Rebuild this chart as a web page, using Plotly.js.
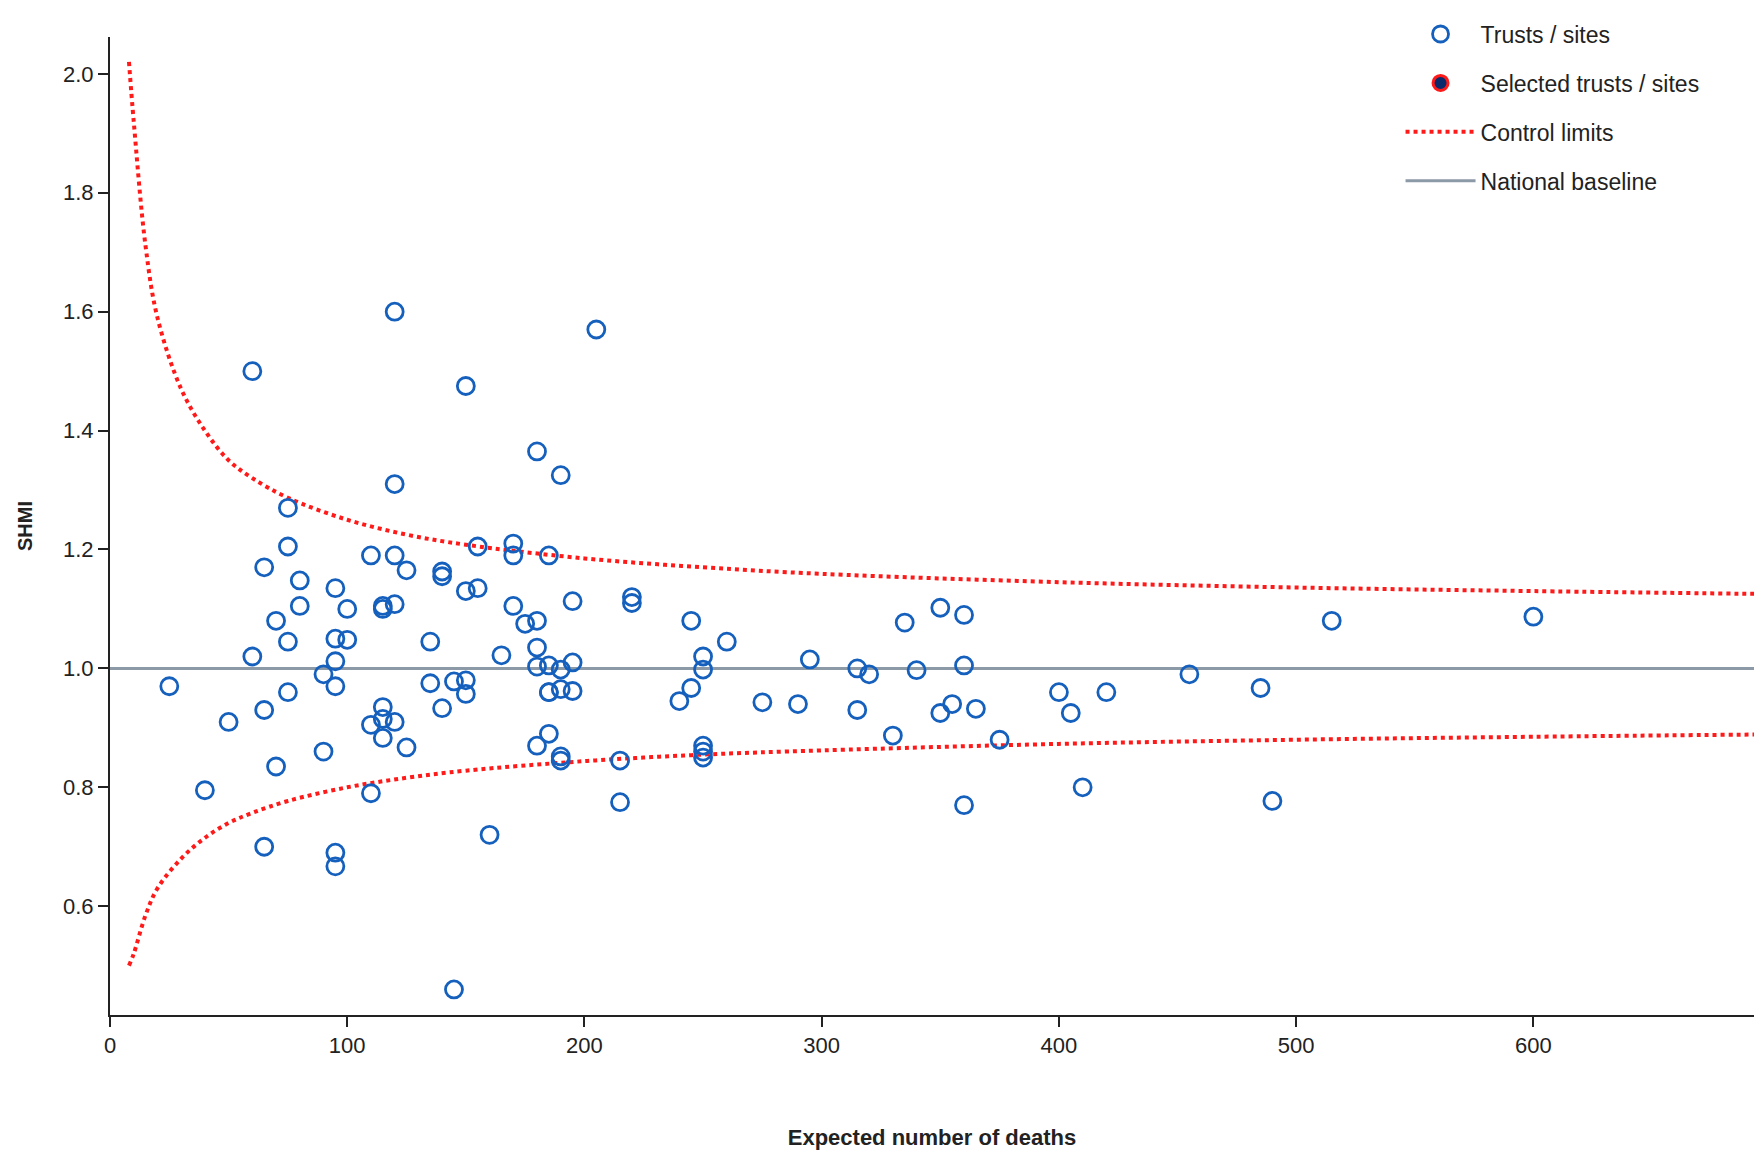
<!DOCTYPE html>
<html><head><meta charset="utf-8">
<script src="https://cdn.plot.ly/plotly-3.0.1.min.js"></script>
<style>html,body{margin:0;padding:0;background:#fff}#c{width:1754px;height:1154px}</style>
</head><body><div id="c"></div>
<script>
const expected = [25,40,50,60,60,65,65,65,70,70,75,75,75,75,80,80,90,90,95,95,95,95,95,95,100,100,110,110,110,115,115,115,115,115,120,120,120,120,120,125,125,135,135,140,140,140,145,145,150,150,150,150,155,155,160,165,170,170,170,175,180,180,180,180,180,185,185,185,185,185,190,190,190,190,190,195,195,195,205,215,215,220,220,240,245,245,250,250,250,250,250,260,275,290,295,315,315,320,330,335,340,350,350,355,360,360,360,365,375,400,405,410,420,455,485,490,515,600];
const shmi = [0.97,0.795,0.91,1.5,1.02,1.17,0.93,0.70,1.08,0.835,1.27,1.205,1.045,0.96,1.148,1.105,0.99,0.86,1.135,1.05,1.012,0.97,0.69,0.667,1.10,1.048,1.19,0.905,0.79,1.105,1.10,0.935,0.915,0.883,1.60,1.31,1.19,1.108,0.91,1.165,0.867,1.045,0.975,1.163,1.155,0.933,0.978,0.46,1.475,1.13,0.98,0.957,1.205,1.135,0.72,1.022,1.21,1.19,1.105,1.075,1.365,1.08,1.035,1.003,0.87,1.19,1.005,0.96,0.96,0.89,1.325,0.998,0.965,0.852,0.845,1.113,1.01,0.962,1.57,0.845,0.775,1.12,1.11,0.945,1.08,0.967,1.02,0.998,0.87,0.86,0.85,1.045,0.943,0.94,1.015,1.0,0.93,0.99,0.887,1.077,0.997,1.102,0.925,0.94,1.09,1.005,0.77,0.932,0.88,0.96,0.925,0.80,0.96,0.99,0.967,0.777,1.08,1.087];
const limitX = [8,10,15,20,30,40,50,60,75,100,125,150,200,250,300,400,500,600,700];
const upperLimit = [2.02,1.92,1.71,1.59,1.47,1.40,1.35,1.32,1.287,1.25,1.225,1.208,1.185,1.17,1.159,1.145,1.136,1.13,1.125];
const lowerLimit = [0.50,0.52,0.585,0.63,0.68,0.715,0.74,0.757,0.777,0.80,0.816,0.828,0.844,0.855,0.862,0.873,0.880,0.885,0.889];
const baselineX = [0,700];
const baselineY = [1,1];

const blue = '#1560bd';
const traces = [
 {x: baselineX, y: baselineY, mode:'lines', line:{color:'#8c99a6', width:3}, name:'National baseline', legendgroup:'d', legendrank:4, hoverinfo:'skip'},
 {x: limitX, y: upperLimit, mode:'lines', line:{color:'#ff1a1a', width:4, dash:'dot', shape:'spline'}, name:'Control limits', legendgroup:'c', legendrank:3},
 {x: limitX, y: lowerLimit, mode:'lines', line:{color:'#ff1a1a', width:4, dash:'dot', shape:'spline'}, name:'Control limits', legendgroup:'c', showlegend:false},
 {x: expected, y: shmi, mode:'markers', marker:{symbol:'circle-open', size:17, color:blue, line:{width:2.8, color:blue}}, name:'Trusts / sites', legendgroup:'a', legendrank:1},
 {x:[null], y:[null], mode:'markers', marker:{symbol:'circle', size:15, color:'#0b2a6b', line:{width:3, color:'#ff1a1a'}}, name:'Selected trusts / sites', legendgroup:'b', legendrank:2}
];
const layout = {
 width:1754, height:1154, paper_bgcolor:'#fff', plot_bgcolor:'#fff',
 margin:{l:110, r:0, t:37, b:139},
 font:{family:'Liberation Sans, Arial, sans-serif', size:22, color:'#222'},
 showlegend:true,
 legend:{x:0.785, y:1.025, xanchor:'left', yanchor:'top', font:{size:23, color:'#222'}, tracegroupgap:16, itemwidth:70, bgcolor:'rgba(0,0,0,0)'},
 xaxis:{range:[0,693], tickvals:[0,100,200,300,400,500,600], showgrid:false, zeroline:false, showline:true, linecolor:'#222', linewidth:2, ticks:'outside', ticklen:10, tickwidth:2, tickcolor:'#222',
   title:{text:'<b>Expected number of deaths</b>', font:{size:22}, standoff:72}},
 yaxis:{range:[0.417,2.062], tickvals:[0.6,0.8,1.0,1.2,1.4,1.6,1.8,2.0], tickformat:'.1f', showgrid:false, zeroline:false, showline:true, linecolor:'#222', linewidth:2, ticks:'outside', ticklen:10, tickwidth:2, tickcolor:'#222',
   title:{text:'<b>SHMI</b>', font:{size:20}, standoff:25}}
};
Plotly.newPlot('c', traces, layout, {displayModeBar:false, staticPlot:true});
</script></body></html>
